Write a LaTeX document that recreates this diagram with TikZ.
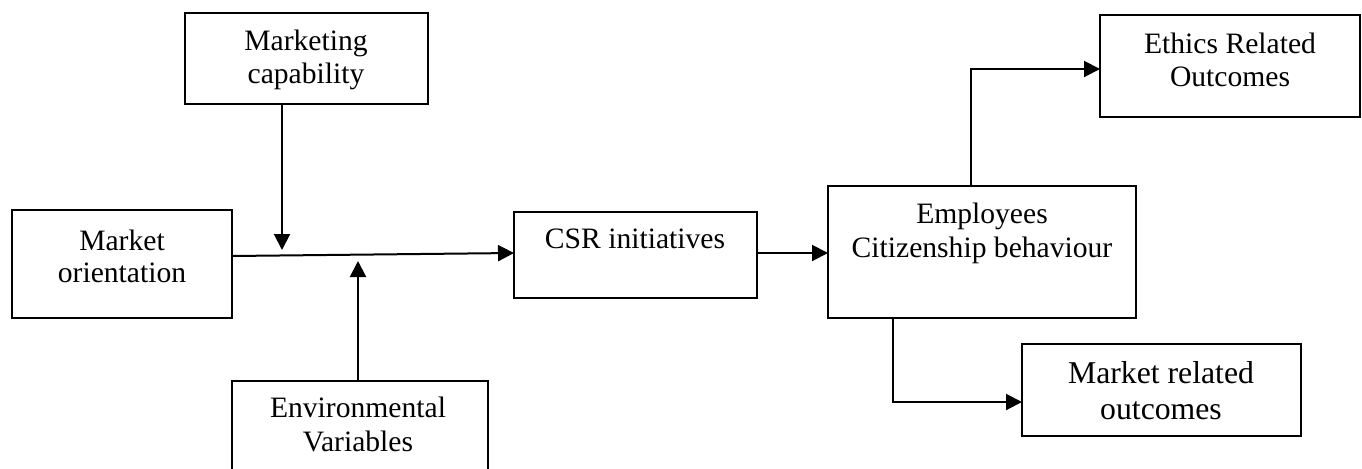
\documentclass[tikz,border=0pt]{standalone}
\usepackage{fontspec}
\setmainfont{Liberation Serif}
\usetikzlibrary{arrows.meta,fit}
\begin{document}
\begin{tikzpicture}[x=0.75pt,y=-0.75pt,
  box/.style={draw, line width=1.7pt, inner sep=0pt, outer sep=0pt},
  txt/.style={anchor=base, inner sep=0pt, font=\fontsize{22.2}{24.75}\selectfont},
  txtbig/.style={anchor=base, inner sep=0pt, font=\fontsize{23.8}{27}\selectfont},
  arr/.style={line width=1.5pt, -{Triangle[length=12pt,width=12pt]}}]
\useasboundingbox (0,0) rectangle (1362,468);
\fill[white] (0,0) rectangle (1362,468);
\clip (0,0) rectangle (1362,468);
% boxes
\node[box, fit={(185,13) (428,104)}] (mc) {};
\node[box, fit={(12,210) (232,318)}] (mo) {};
\node[box, fit={(232,381) (488,500)}] (env) {};
\node[box, fit={(514,212) (757,298)}] (csr) {};
\node[box, fit={(828,186) (1136,318)}] (emp) {};
\node[box, fit={(1100,15) (1360,117)}] (eth) {};
\node[box, fit={(1022,344) (1301,436)}] (mr) {};
% texts
\node[txt] (mc1) at (306,50) {Marketing};
\node[txt] (mc2) at (306,83) {capability};
\node[txt] (mo1) at (122,250) {Market};
\node[txt] (mo2) at (122,282) {orientation};
\node[txt] (env1) at (358,417) {Environmental};
\node[txt] (env2) at (358,451) {Variables};
\node[txt] (csr1) at (635,248) {CSR initiatives};
\node[txt] (emp1) at (982,223) {Employees};
\node[txt] (emp2) at (982,257) {Citizenship behaviour};
\node[txt] (eth1) at (1230,53) {Ethics Related};
\node[txt] (eth2) at (1230,86) {Outcomes};
\node[txtbig] (mr1) at (1161,383) {Market related};
\node[txtbig] (mr2) at (1161,419) {outcomes};
% connectors
\coordinate (mcend) at (282,250);
\coordinate (envend) at (358,261);
\coordinate (ethx) at (971,0);
\coordinate (mrx) at (893,0);
\draw[arr] ([yshift=6pt]mo.east) -- ([yshift=1.5pt]csr.west);
\draw[arr] (mc.south -| mcend) -- (mcend);
\draw[arr] (env.north -| envend) -- (envend);
\draw[arr] ([yshift=1.5pt]csr.east) -- ([yshift=1.5pt]csr.east -| emp.west);
\draw[arr] (emp.north -| ethx) |- ([yshift=-2.25pt]eth.west);
\draw[arr] (emp.south -| mrx) |- ([yshift=-9pt]mr.west);
\end{tikzpicture}
\end{document}
